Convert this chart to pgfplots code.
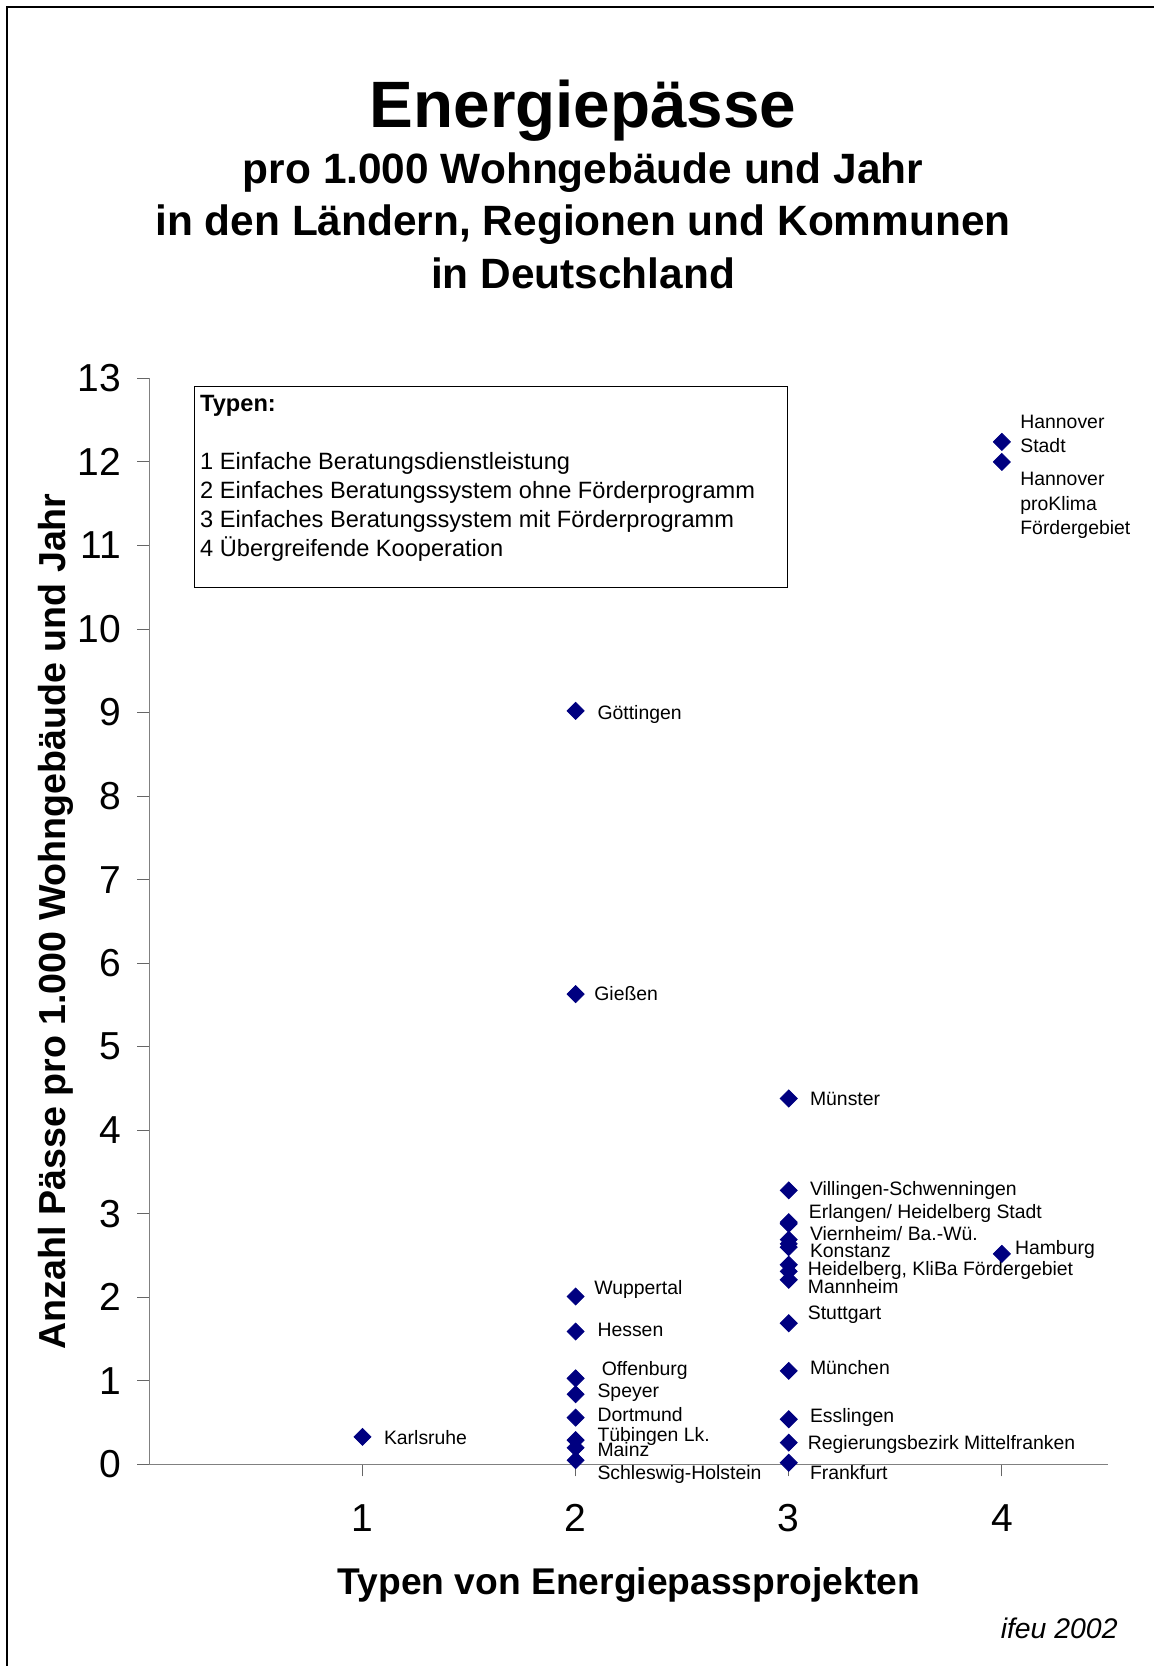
\documentclass[border=0pt]{standalone}
\usepackage{fontspec}
\setmainfont{Liberation Sans}
\usepackage{pgfplots}
\pgfplotsset{compat=1.18}

\definecolor{marknavy}{HTML}{000080}
\definecolor{axisgray}{HTML}{808080}

% point labels
\newcommand{\lab}{\fontsize{9.7}{11}\selectfont}

% Energiepaesse per 1000 residential buildings and year, by project type
\pgfplotstableread{
x    y
1    0.33
2    9.02
2    5.63
2    2.01
2    1.59
2    1.03
2    0.84
2    0.56
2    0.29
2    0.20
2    0.05
3    4.38
3    3.28
3    2.90
3    2.88
3    2.69
3    2.64
3    2.60
3    2.39
3    2.31
3    2.21
3    1.69
3    1.12
3    0.54
3    0.26
3    0.02
4    12.24
4    12.00
4    2.52
}\passdata

\begin{document}
\begin{tikzpicture}
\useasboundingbox (0,0) rectangle (577pt,833pt);
% outer frame (runs off the page on the right and bottom)
\draw[line width=1pt] (3.5pt,-20pt) -- (3.5pt,829.5pt) -- (600pt,829.5pt);

% titles
\node[anchor=base, font=\fontsize{32.8}{38}\selectfont\bfseries] at (291.5pt,769.2pt) {Energiepässe};
\node[anchor=base, font=\fontsize{21.2}{25}\selectfont\bfseries] at (291.5pt,741.1pt) {pro 1.000 Wohngebäude und Jahr};
\node[anchor=base, font=\fontsize{21.2}{25}\selectfont\bfseries] at (291.5pt,715.0pt) {in den Ländern, Regionen und Kommunen};
\node[anchor=base, font=\fontsize{21.2}{25}\selectfont\bfseries] at (291.5pt,688.5pt) {in Deutschland};

\begin{axis}[
  at={(74.7pt,100.8pt)}, anchor=south west,
  scale only axis, width=479.5pt, height=543pt,
  xmin=0, xmax=4.5, ymin=0, ymax=13,
  axis x line*=bottom, axis y line*=left,
  axis line style={axisgray, line width=0.6pt},
  xtick={1,2,3,4}, ytick={0,1,...,13},
  tick align=outside,
  major tick length=6pt,
  tick style={black!60, line width=0.5pt},
  /pgf/number format/assume math mode=true,
  ticklabel style={font=\fontsize{19.5}{23}\selectfont},
  xticklabel style={yshift=-10.5pt},
  yticklabel style={xshift=-4.5pt},
  xlabel={Typen von Energiepassprojekten},
  xlabel style={font=\fontsize{18.6}{22}\selectfont\bfseries, at={(axis description cs:0.5,-0.111)}, anchor=center},
  ylabel={Anzahl Pässe pro 1.000 Wohngebäude und Jahr},
  ylabel style={font=\fontsize{18.8}{22}\selectfont\bfseries, at={(axis description cs:-0.098,0.5)}, anchor=center, rotate=0},
  clip=false,
]
\addplot[only marks, mark=square*, mark size=3pt,
  mark options={rotate=45, fill=marknavy, draw=marknavy}]
  table[x=x, y=y] {\passdata};

\begin{scope}[every node/.style={anchor=base west, font=\lab, inner sep=0pt}]
\node at (axis cs:1.099,0.24) {Karlsruhe};
\node at (axis cs:2.101,8.92) {Göttingen};
\node at (axis cs:2.086,5.55) {Gießen};
\node at (axis cs:2.086,2.03) {Wuppertal};
\node at (axis cs:2.101,1.53) {Hessen};
\node at (axis cs:2.121,1.07) {Offenburg};
\node at (axis cs:2.101,0.80) {Speyer};
\node at (axis cs:2.101,0.51) {Dortmund};
\node at (axis cs:2.101,0.28) {Tübingen Lk.};
\node at (axis cs:2.101,0.09) {Mainz};
\node at (axis cs:2.101,-0.18) {Schleswig-Holstein};
\node at (axis cs:3.098,4.30) {Münster};
\node at (axis cs:3.098,3.22) {Villingen-Schwenningen};
\node at (axis cs:3.093,2.94) {Erlangen/ Heidelberg Stadt};
\node at (axis cs:3.098,2.68) {Viernheim/ Ba.-Wü.};
\node at (axis cs:3.098,2.48) {Konstanz};
\node at (axis cs:3.088,2.26) {Heidelberg, KliBa Fördergebiet};
\node at (axis cs:3.088,2.04) {Mannheim};
\node at (axis cs:3.088,1.74) {Stuttgart};
\node at (axis cs:3.098,1.08) {München};
\node at (axis cs:3.098,0.50) {Esslingen};
\node at (axis cs:3.088,0.18) {Regierungsbezirk Mittelfranken};
\node at (axis cs:3.098,-0.18) {Frankfurt};
\node at (axis cs:4.060,2.51) {Hamburg};
\node at (axis cs:4.085,12.40) {Hannover};
\node at (axis cs:4.085,12.11) {Stadt};
\node at (axis cs:4.085,11.72) {Hannover};
\node at (axis cs:4.085,11.42) {proKlima};
\node at (axis cs:4.085,11.13) {Fördergebiet};
\end{scope}
\end{axis}

% key to the project types
\draw[line width=0.6pt] (97.2pt,539.1pt) rectangle (393.7pt,639.6pt);
\begin{scope}[every node/.style={anchor=base west, inner sep=0pt, font=\fontsize{11.8}{14}\selectfont}]
\node[font=\fontsize{11.8}{14}\selectfont\bfseries] at (99.9pt,627.4pt) {Typen:};
\node at (99.9pt,598.2pt) {1 Einfache Beratungsdienstleistung};
\node at (99.9pt,583.8pt) {2 Einfaches Beratungssystem ohne Förderprogramm};
\node at (99.9pt,569.4pt) {3 Einfaches Beratungssystem mit Förderprogramm};
\node at (99.9pt,554.6pt) {4 Übergreifende Kooperation};
\end{scope}

\node[anchor=base east, inner sep=0pt, font=\fontsize{14.2}{17}\selectfont\itshape] at (559pt,13.6pt) {ifeu 2002};
\end{tikzpicture}
\end{document}
